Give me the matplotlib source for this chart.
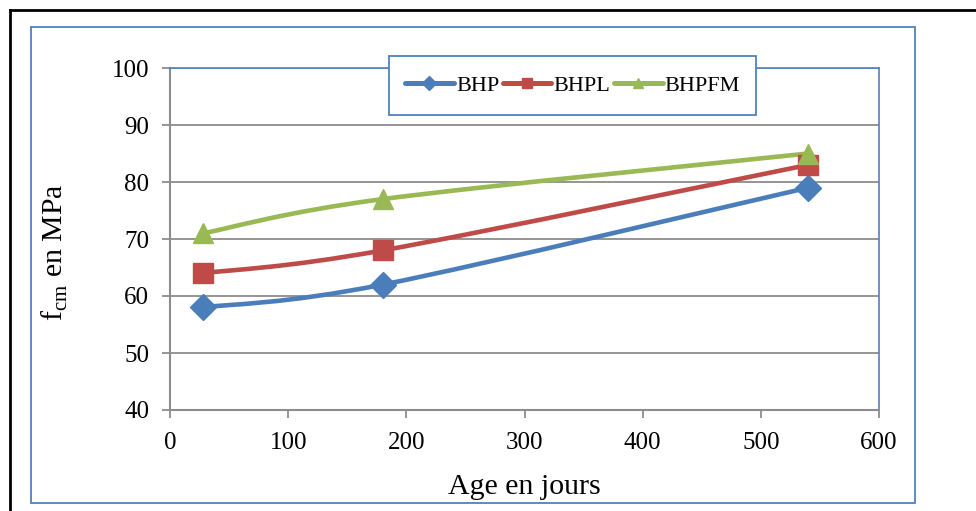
import matplotlib
matplotlib.use("Agg")
import matplotlib.pyplot as plt
import numpy as np
from matplotlib.path import Path
from matplotlib.patches import PathPatch, Rectangle
from matplotlib.lines import Line2D

plt.rcParams['font.family'] = ['Liberation Serif', 'DejaVu Serif']
plt.rcParams['mathtext.fontset'] = 'custom'
plt.rcParams['mathtext.rm'] = 'Liberation Serif'

# donnees
age = [28, 180, 540]
bhp = [58, 62, 79]
bhpl = [64, 68, 83]
bhpfm = [71, 77, 85]
series_names = ['BHP', 'BHPL', 'BHPFM']
colors = ['#4A7EBB', '#BE4B48', '#98B954']
markers = ['D', 's', '^']
msizes = [13, 14, 14]


def smooth_path(x, y):
    # courbe lissee (Bezier type Catmull-Rom, comme Excel)
    pts = np.column_stack([x, y]).astype(float)
    n = len(pts)
    verts = [pts[0]]
    codes = [Path.MOVETO]
    for i in range(n - 1):
        p0 = pts[i - 1] if i > 0 else pts[i]
        p1 = pts[i]
        p2 = pts[i + 1]
        p3 = pts[i + 2] if i + 2 < n else pts[i + 1]
        c1 = p1 + (p2 - p0) / 6.0
        c2 = p2 - (p3 - p1) / 6.0
        verts += [c1, c2, p2]
        codes += [Path.CURVE4] * 3
    return Path(verts, codes)


fig = plt.figure(figsize=(9.76, 5.11), dpi=100)
ax = fig.add_axes([170/976, 1-410/511, 709/976, 342/511])

data = [bhp, bhpl, bhpfm]
handles = []
for vals, name, c, m, ms in zip(data, series_names, colors, markers, msizes):
    ax.add_patch(PathPatch(smooth_path(age, vals), facecolor='none',
                           edgecolor=c, lw=3.3, capstyle='round', zorder=3))
    ax.plot(age, vals, linestyle='none', marker=m, ms=ms, color=c, zorder=4)
    handles.append(Line2D([], [], color=c, lw=3.6, marker=m, ms=ms*0.55,
                          solid_capstyle='round'))

ax.set_xlim(0, 600)
ax.set_ylim(40, 100)
ax.set_xticks(np.arange(0, 601, 100))
ax.set_yticks(np.arange(40, 101, 10))
ax.yaxis.grid(True, color='#8C8C8C', lw=1.3)
ax.set_axisbelow(True)
for s in ['left', 'bottom']:
    ax.spines[s].set_color('#8C8C8C')
    ax.spines[s].set_linewidth(1.5)
for s in ['top', 'right']:
    ax.spines[s].set_color('#4F81BD')
    ax.spines[s].set_linewidth(1.2)
ax.tick_params(axis='both', direction='out', length=6, width=1.3,
               color='#8C8C8C', labelsize=18)
ax.tick_params(axis='y', pad=9)
ax.tick_params(axis='x', pad=10)

ax.set_xlabel('Age en jours', fontsize=21.5, labelpad=14)
ax.set_ylabel(r'f$_{\rm cm}$ en MPa', fontsize=21.5)
ax.yaxis.set_label_coords(-0.141, 0.462)

# cadres
fig.add_artist(Rectangle((31/976, 1-503/511), 884/976, 476/511,
                         transform=fig.transFigure, fill=False,
                         edgecolor='#4F81BD', lw=1.3))
fig.add_artist(Line2D([10/976, 1], [1-10/511, 1-10/511], transform=fig.transFigure,
                      color='black', lw=2))
fig.add_artist(Line2D([10/976, 10/976], [1-10/511, 0], transform=fig.transFigure,
                      color='black', lw=2))

# legende
lx, ly, lw_, lh = 389/976, 1-115/511, 367/976, 59/511
fig.add_artist(Rectangle((lx, ly), lw_, lh, transform=fig.transFigure,
                         facecolor='white', edgecolor='#4F81BD', lw=1.3, zorder=5))
leg = fig.legend(handles, series_names, loc='center', ncol=3,
                 bbox_to_anchor=(lx + lw_/2, ly + lh/2), bbox_transform=fig.transFigure,
                 frameon=False, fontsize=16, handlelength=2.2, handletextpad=0.1,
                 columnspacing=0.15)
leg.set_zorder(6)

fig.savefig('out.png', dpi=100)
